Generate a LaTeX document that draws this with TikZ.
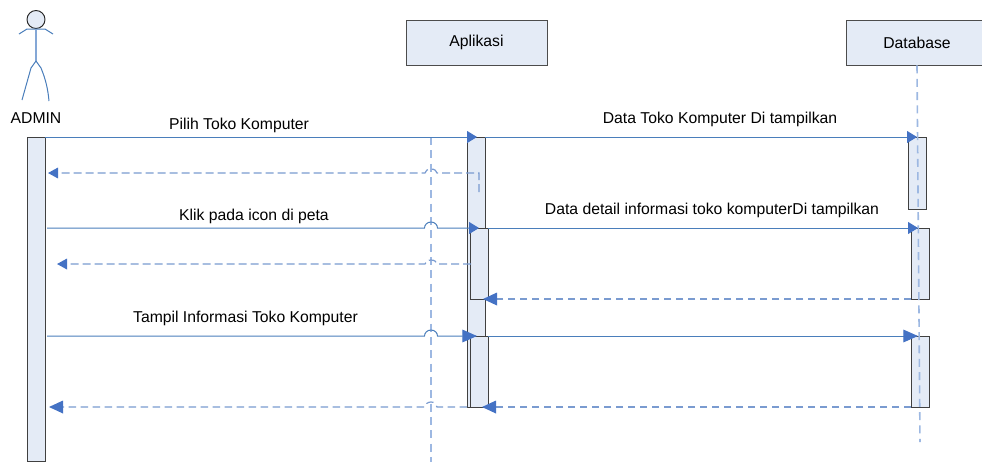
\documentclass[tikz,border=0pt]{standalone}
\usepackage{fontspec}
\setmainfont{Liberation Sans}
\usepackage{xcolor}
\usetikzlibrary{arrows.meta}
\definecolor{linkblue}{HTML}{4A7EBB}
\definecolor{headblue}{HTML}{4472C4}
\definecolor{replyblue}{HTML}{7A9BD0}
\definecolor{lifeblue}{HTML}{9DB8E2}
\definecolor{boxfill}{HTML}{E4EBF6}
\tikzstyle{object} = [rectangle, draw=black!70, fill=boxfill, line width=0.7pt, inner sep=0pt, font=\fontsize{11.8pt}{13pt}\selectfont]
\tikzstyle{activation} = [rectangle, draw=black!75, fill=boxfill, line width=0.7pt, inner sep=0pt]
\tikzstyle{message} = [draw=linkblue, line width=0.75pt, -{Triangle[length=7.5pt,width=9pt,color=headblue]}]
\tikzstyle{bigmessage} = [draw=linkblue, line width=0.75pt, -{Triangle[length=11pt,width=9.5pt,color=headblue]}]
\tikzstyle{reply} = [draw=replyblue, line width=0.9pt, dash pattern=on 6pt off 3pt, -{Triangle[length=7.5pt,width=8pt,color=headblue]}]
\tikzstyle{bigreply} = [draw=replyblue, line width=0.9pt, dash pattern=on 5.5pt off 3.5pt, -{Triangle[length=10.5pt,width=9.5pt,color=headblue]}]
\tikzstyle{plain} = [draw=linkblue, line width=0.75pt]
\tikzstyle{lifeline} = [draw=lifeblue, line width=1.2pt, dash pattern=on 6pt off 4pt]
\tikzstyle{label} = [inner sep=0pt, font=\fontsize{11.8pt}{13pt}\selectfont]
\begin{document}
\begin{tikzpicture}[x=0.75pt,y=-0.75pt]
    \useasboundingbox (0,0) rectangle (982,462);
    % lifelines
    \node[object, minimum width=141*0.75pt, minimum height=45*0.75pt] (aplikasi) at (476.5,42.5) {Aplikasi};
    \node[object, minimum width=142*0.75pt, minimum height=45*0.75pt] (database) at (917,42.5) {Database};
    \coordinate (ltop) at (431,137);
    \coordinate (lbot) at (431,462);
    \coordinate (dbot) at (920,442);
    \draw[lifeline] (ltop) -- (lbot);
    % activations
    \node[activation, minimum width=18*0.75pt, minimum height=324*0.75pt] (admin) at (36,299) {};
    \node[activation, minimum width=18*0.75pt, minimum height=270*0.75pt] (app0) at (476.5,272) {};
    \node[activation, minimum width=18*0.75pt, minimum height=71*0.75pt] (app1) at (479.5,263.5) {};
    \node[activation, minimum width=18*0.75pt, minimum height=71*0.75pt] (app2) at (479.5,371.5) {};
    \node[activation, minimum width=18*0.75pt, minimum height=72*0.75pt] (db0) at (917,173) {};
    \node[activation, minimum width=18*0.75pt, minimum height=71*0.75pt] (db1) at (920,263.5) {};
    \node[activation, minimum width=18*0.75pt, minimum height=71*0.75pt] (db2) at (920,371.5) {};
    \draw[lifeline] (database.south) -- (dbot);
    % actor
    \node[circle, draw=black!85, fill=boxfill, line width=0.7pt, minimum size=18*0.75pt, inner sep=0pt] (head) at (36,19.5) {};
    \coordinate (hip) at (36,61);
    \draw[plain] (19,34) -- (27,29) -- (45,29) -- (53,34);
    \draw[draw=lifeblue!70!linkblue, line width=1pt] (head) -- (hip);
    \draw[plain] (hip) -- (31,68) -- (22,100);
    \draw[plain] (hip) -- (41,68) .. controls (46,80) and (48,90) .. (49,101);
    \node[label] (adminlabel) at (36,118.5) {ADMIN};
    % requests
    \coordinate (m1a) at (45,137);
    \coordinate (m1b) at (477,137);
    \draw[message] (m1a) -- (m1b);
    \coordinate (m2a) at (485,137);
    \coordinate (m2b) at (917,137);
    \draw[message] (m2a) -- (m2b);
    \coordinate (m3a) at (47,228);
    \coordinate (m3b) at (479,228);
    \draw[message] (m3a) -- (424.5,228) arc[start angle=180,end angle=360,x radius=6.5,y radius=6] -- (m3b);
    \coordinate (m4a) at (488,228);
    \coordinate (m4b) at (918,228);
    \draw[message] (m4a) -- (m4b);
    \coordinate (m5a) at (47,336);
    \coordinate (m5b) at (477,336);
    \draw[bigmessage] (m5a) -- (424.5,336) arc[start angle=180,end angle=360,x radius=6.5,y radius=6] -- (m5b);
    \coordinate (m6a) at (488,336);
    \coordinate (m6b) at (918,336);
    \draw[bigmessage] (m6a) -- (m6b);
    % replies
    \coordinate (r1a) at (479,192);
    \coordinate (r1b) at (48,173);
    \draw[reply] (r1a) -- (479,173) -- (437,173) arc[start angle=0,end angle=-180,x radius=6,y radius=4] -- (r1b);
    \coordinate (r2a) at (471,264);
    \coordinate (r2b) at (57,264);
    \draw[reply] (r2a) -- (437,264) arc[start angle=0,end angle=-180,x radius=6,y radius=4] -- (r2b);
    \coordinate (r3a) at (911,299);
    \coordinate (r3b) at (483,299);
    \draw[bigreply] (r3a) -- (r3b);
    \coordinate (r4a) at (911,407);
    \coordinate (r4b) at (482,407);
    \draw[bigreply] (r4a) -- (r4b);
    \coordinate (r5a) at (467,407);
    \coordinate (r5b) at (49,407);
    \draw[bigreply] (r5a) -- (437,407) arc[start angle=0,end angle=-180,x radius=6,y radius=5] -- (r5b);
    % labels
    \node[label] (l1) at (239,125.5) {Pilih Toko Komputer};
    \node[label] (l2) at (720,119) {Data Toko Komputer Di tampilkan};
    \node[label] (l3) at (254,216) {Klik pada icon di peta};
    \node[label] (l4) at (712,210) {Data detail informasi toko komputerDi tampilkan};
    \node[label] (l5) at (245.5,318) {Tampil Informasi Toko Komputer};
\end{tikzpicture}
\end{document}
